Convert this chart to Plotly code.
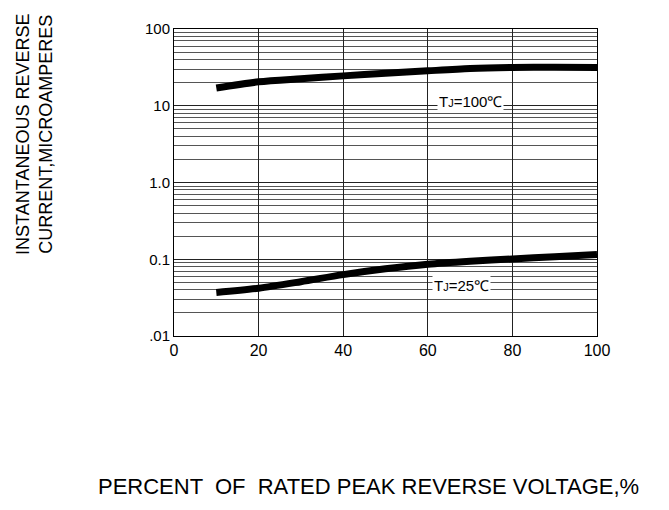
import plotly.graph_objects as go

x_pct = [10, 20, 30, 40, 50, 60, 70, 80, 90, 100]
i_100 = [17, 20.5, 22.5, 24.5, 26.5, 28.5, 30.5, 31.5, 31.8, 31.5]
i_25 = [0.037, 0.042, 0.051, 0.063, 0.075, 0.086, 0.094, 0.101, 0.108, 0.115]

y_tickvals = [0.01, 0.1, 1, 10, 100]
y_ticktext = [".01", "0.1", "1.0", "10", "100"]
x_tickvals = [0, 20, 40, 60, 80, 100]

FONT = "Liberation Sans, Arial, sans-serif"

# page body has an 8px margin; figure sized so plot area lands at 174..597 x 23..336
W, H = 653, 494
L, R, T, B = 166, 64, 15, 166
pw, ph = W - L - R, H - T - B

def px(xp):
    return (xp - 8 - L) / pw

def py(yp):
    return 1 - (yp - 8 - T) / ph

fig = go.Figure()
for ys in (i_100, i_25):
    fig.add_trace(go.Scatter(x=x_pct, y=ys, mode="lines",
                             line=dict(color="black", width=7, shape="spline", smoothing=0.8),
                             showlegend=False, hoverinfo="skip"))

fig.update_layout(
    width=W, height=H,
    margin=dict(l=L, r=R, t=T, b=B),
    paper_bgcolor="white", plot_bgcolor="white",
    font=dict(family=FONT, color="black", size=15),
    xaxis=dict(range=[0, 100], tickvals=x_tickvals, showgrid=True,
               gridcolor="#222", gridwidth=1, showline=True, linecolor="black",
               linewidth=1, mirror=True, ticks="", zeroline=False,
               tickfont=dict(family=FONT, size=16)),
    yaxis=dict(type="log", range=[-2, 2], tickvals=y_tickvals, ticktext=y_ticktext,
               showgrid=True, gridcolor="#222", gridwidth=1, showline=True,
               linecolor="black", linewidth=1, mirror=True, ticks="",
               tickfont=dict(family=FONT, size=15),
               minor=dict(dtick="D1", showgrid=True, gridcolor="#555", gridwidth=1)),
    annotations=[
        dict(x=70, y=1.054, xref="x", yref="y",
             text="T<span style='font-size:11px'>J</span>=100℃", showarrow=False,
             bgcolor="white", font=dict(family=FONT, size=15), xanchor="center", yanchor="middle"),
        dict(x=68, y=-1.337, xref="x", yref="y",
             text="T<span style='font-size:11px'>J</span>=25℃", showarrow=False,
             bgcolor="white", font=dict(family=FONT, size=15), xanchor="center", yanchor="middle"),
        dict(text="INSTANTANEOUS REVERSE<br>CURRENT,MICROAMPERES",
             xref="paper", yref="paper", x=px(35), y=py(131),
             xanchor="center", yanchor="middle",
             textangle=-90, showarrow=False, font=dict(family=FONT, size=18), align="center"),
        dict(text="PERCENT  OF  RATED PEAK REVERSE VOLTAGE,%",
             xref="paper", yref="paper", x=px(368), y=py(489),
             xanchor="center", yanchor="middle",
             showarrow=False, font=dict(family=FONT, size=22)),
    ],
)

fig.write_html("out.html")
